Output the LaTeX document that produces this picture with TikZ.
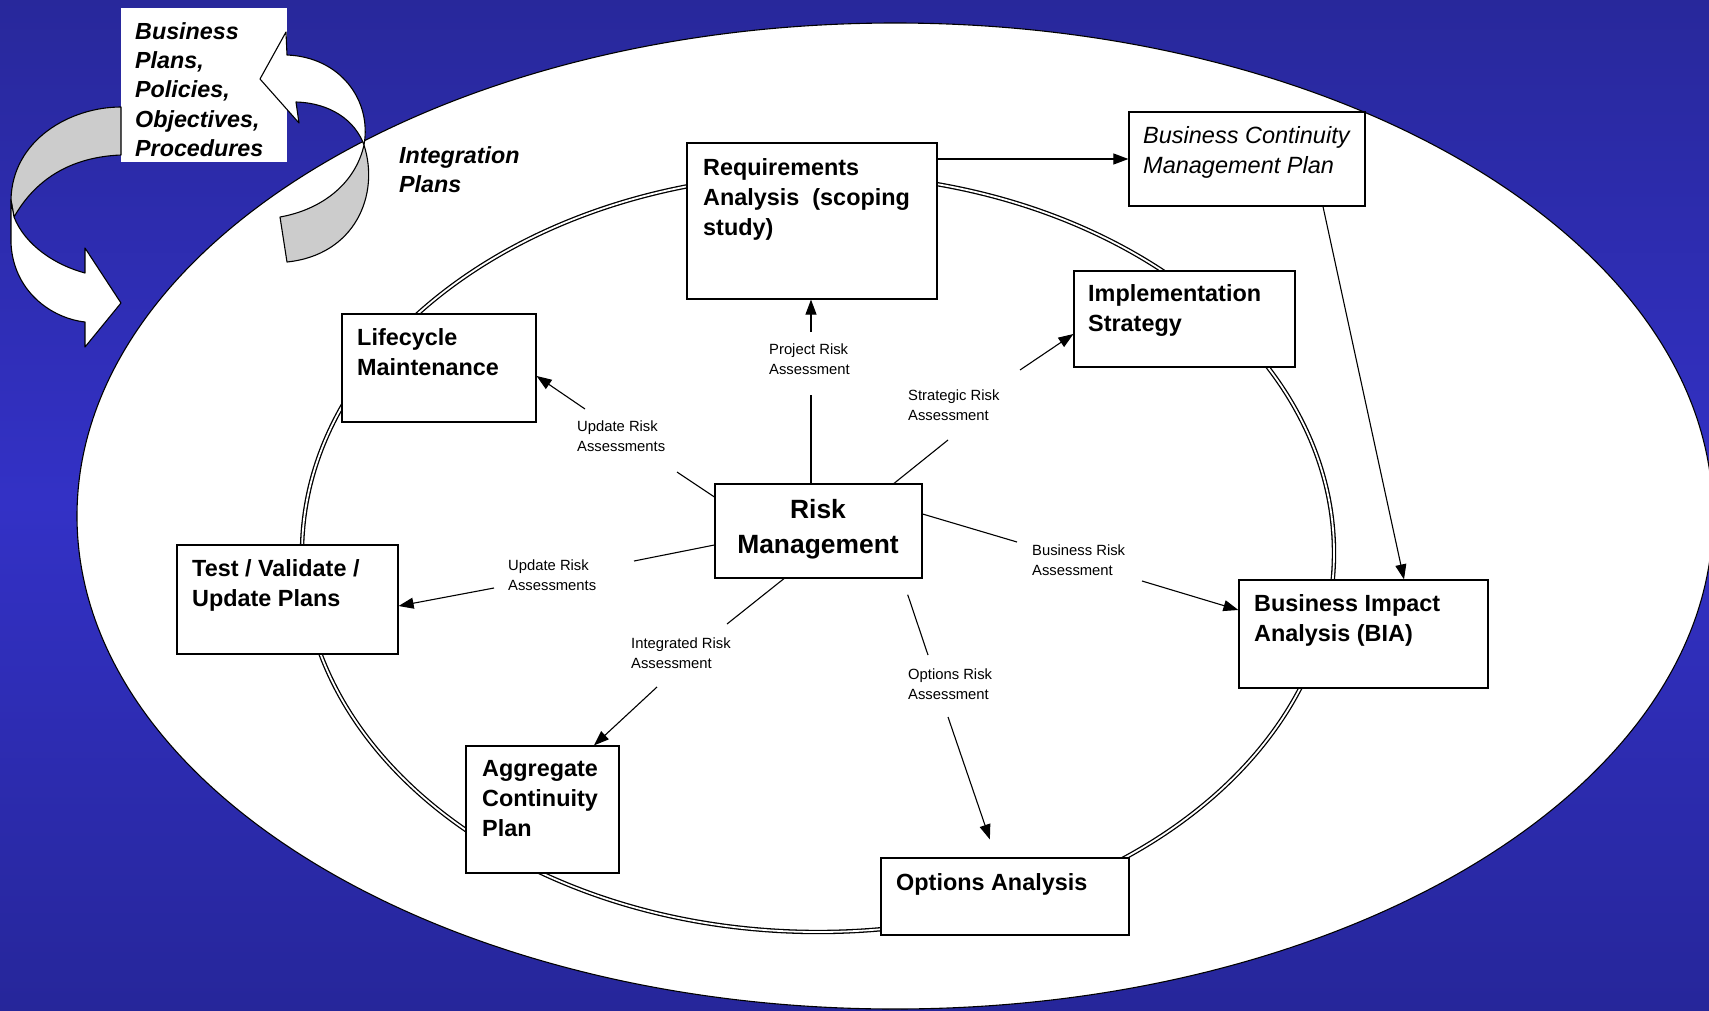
\documentclass[tikz,border=0pt]{standalone}
\usepackage{fontspec}
\setmainfont{Liberation Sans}
\usetikzlibrary{arrows.meta}
\definecolor{bgtop}{HTML}{28289B}
\definecolor{bgmid}{HTML}{3331C6}
\definecolor{bgbot}{HTML}{26269A}
\definecolor{ribbongray}{HTML}{CCCCCC}
\tikzset{
  box/.style={draw=black, line width=1.2pt, fill=white, inner sep=0pt, rectangle},
  btxt/.style={anchor=north west, inner sep=0pt, align=left, font=\bfseries\fontsize{23.4}{30}\selectfont},
  itxt/.style={anchor=north west, inner sep=0pt, align=left, font=\itshape\fontsize{23.5}{30.5}\selectfont},
  bitxt/.style={anchor=north west, inner sep=0pt, align=left, font=\bfseries\itshape\fontsize{23.3}{29.4}\selectfont},
  smalllbl/.style={anchor=north west, inner sep=0pt, align=left, font=\fontsize{14.8}{19.6}\selectfont},
  conn/.style={line width=1.1pt},
  arr/.style={conn, -{Triangle[length=15pt,width=11pt]}},
  ribbon/.style={draw=black, line width=1.1pt, line join=round},
}
\begin{document}
\begin{tikzpicture}[x=1pt,y=-1pt]
\useasboundingbox (0,0) rectangle (1709,1010);
\clip (0,0) rectangle (1709,1010);
% background
\shade[top color=bgtop, bottom color=bgbot, middle color=bgmid] (0,0) rectangle (1709,1010);
% big ellipse
\draw[fill=white, line width=1.1pt] (895,516) ellipse [x radius=818, y radius=493];
% inner double ellipse
\draw[line width=1.3pt, double=white, double distance=1.8pt] (818,553) ellipse [x radius=516, y radius=379];

% boxes
\node[box, minimum width=250, minimum height=156] (req)  at (812,221) {};
\node[box, minimum width=236, minimum height=94]  (bcmp) at (1247,159) {};
\node[box, minimum width=221, minimum height=96]  (impl) at (1184.5,319) {};
\node[box, minimum width=194, minimum height=108] (life) at (439,368) {};
\node[box, minimum width=207, minimum height=94]  (risk) at (818.5,531) {};
\node[box, minimum width=221, minimum height=109] (test) at (287.5,599.5) {};
\node[box, minimum width=249, minimum height=108] (bia)  at (1363.5,634) {};
\node[box, minimum width=153, minimum height=127] (agg)  at (542.5,809.5) {};
\node[box, minimum width=248, minimum height=77]  (opt)  at (1005,896.5) {};
\node[fill=white, inner sep=0pt, minimum width=166, minimum height=154] (bp) at (204,84.5) {};

% box texts
\node[btxt] (reqt)  at (703,158) {Requirements\\Analysis\ \ (scoping\\study)};
\node[itxt] (bcmpt) at (1143,126) {Business Continuity\\Management Plan};
\node[btxt] (implt) at (1088,284) {Implementation\\Strategy};
\node[btxt] (lifet) at (357,328) {Lifecycle\\Maintenance};
\node[anchor=north, inner sep=0pt, align=center, font=\bfseries\fontsize{26.4}{35}\selectfont] (riskt) at (818,499) {Risk\\Management};
\node[btxt] (testt) at (192,559) {Test / Validate /\\Update Plans};
\node[btxt] (biat)  at (1254,594) {Business Impact\\Analysis (BIA)};
\node[btxt] (aggt)  at (482,760) {Aggregate\\Continuity\\Plan};
\node[btxt] (optt)  at (896,873) {Options Analysis};
\node[bitxt] (bpt)  at (135,22) {Business\\Plans,\\Policies,\\Objectives,\\Procedures};
\node[bitxt] (intt) at (399,146) {Integration\\Plans};

% connector labels
\node[smalllbl] (lpr) at (769,344) {Project Risk\\Assessment};
\node[smalllbl] (lst) at (908,390) {Strategic Risk\\Assessment};
\node[smalllbl] (lu1) at (577,421) {Update Risk\\Assessments};
\node[smalllbl] (lu2) at (508,560) {Update Risk\\Assessments};
\node[smalllbl] (lbr) at (1032,545) {Business Risk\\Assessment};
\node[smalllbl] (lir) at (631,638) {Integrated Risk\\Assessment};
\node[smalllbl] (lor) at (908,669) {Options Risk\\Assessment};

% free ends of connectors
\coordinate (pr1) at (811,395);  \coordinate (pr2) at (811,332);
\coordinate (st1) at (948,440);  \coordinate (st2) at (1020,370);
\coordinate (ua1) at (677,472);  \coordinate (ua2) at (585,409);
\coordinate (ub1) at (634,561);  \coordinate (ub2) at (494,588);
\coordinate (ir1) at (727,624);  \coordinate (ir2) at (657,687);
\coordinate (or1) at (928,655);  \coordinate (or2) at (948,717);
\coordinate (br1) at (1017,542); \coordinate (br2) at (1142,581);

% connectors
\draw[conn] (risk.north -| pr1) -- (pr1);
\draw[arr]  (pr2) -- (req.south -| pr2);
\draw[conn] (risk.north -| 894,0) -- (st1);
\draw[arr]  (st2) -- (impl.west |- 0,334);
\draw[conn] (risk.west |- 0,497) -- (ua1);
\draw[arr]  (ua2) -- (life.east |- 0,376);
\draw[conn] (risk.west |- 0,545) -- (ub1);
\draw[arr]  (ub2) -- (test.east |- 0,606);
\draw[conn] (risk.south -| 784,0) -- (ir1);
\draw[arr]  (ir2) -- (agg.north -| 594,0);
\draw[conn, shorten <=17pt] (risk.south -| 902.3,0) -- (or1);
\draw[arr, shorten >=19pt] (or2) -- (opt.north -| 996,0);
\draw[conn] (risk.east |- 0,514) -- (br1);
\draw[arr]  (br2) -- (bia.west |- 0,610);
\draw[arr]  (req.east |- 0,159) -- (bcmp.west |- 0,159);
\draw[arr]  (bcmp.south -| 1323,0) -- (bia.north -| 1404,0);

% ribbon arrows (top left)
\draw[ribbon, fill=ribbongray] (121,107) .. controls (70,107) and (12,140) .. (11,200)
   -- (14,217) .. controls (35,180) and (70,157) .. (121,155) -- cycle;
\draw[ribbon, fill=white] (11,200) -- (11,243) .. controls (13,290) and (50,318) .. (85,322)
   -- (85,347) -- (121,303) -- (85,248) -- (85,273) .. controls (55,265) and (25,245) .. (14,217) -- cycle;
\draw[ribbon, fill=ribbongray] (280,217) .. controls (320,210) and (355,185) .. (364,145)
   .. controls (380,195) and (355,255) .. (287,262) -- cycle;
\draw[ribbon, fill=white] (364,145) .. controls (372,100) and (340,57) .. (287,55)
   -- (286,32) -- (260,79) -- (299,123) -- (296,102) .. controls (330,103) and (355,120) .. (364,145) -- cycle;
\end{tikzpicture}
\end{document}
